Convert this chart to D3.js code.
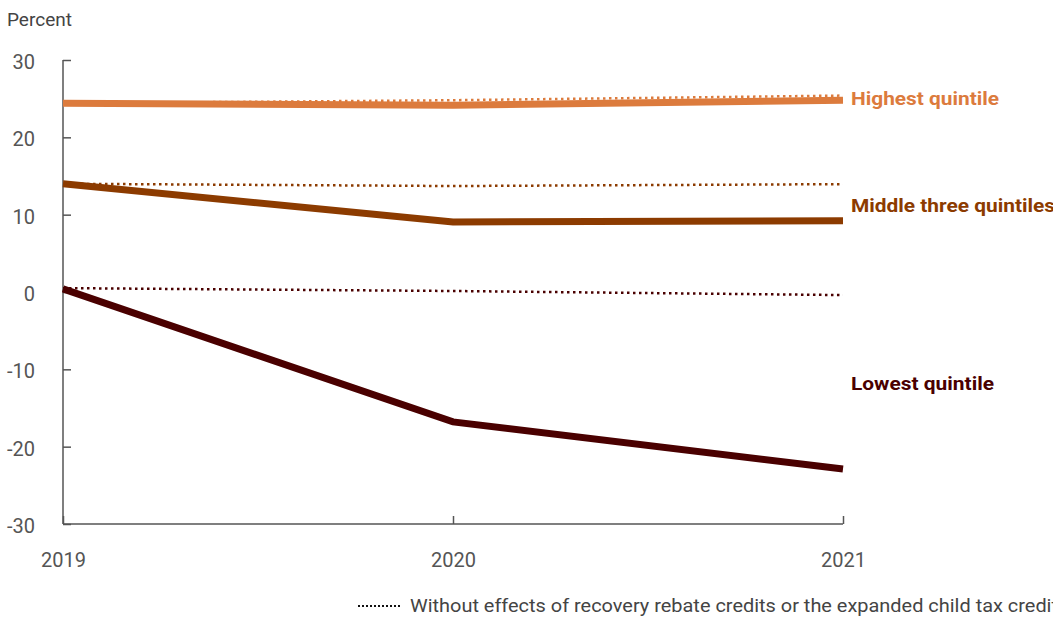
<!DOCTYPE html>
<html><head><meta charset="utf-8">
<script src="https://cdn.jsdelivr.net/npm/d3@7"></script>
<style>body{margin:0;background:#fff}svg{display:block}</style>
</head><body>
<svg id="c" width="1053" height="617"></svg>
<script>
const years = [2019, 2020, 2021];
const yTicks = [30, 20, 10, 0, -10, -20, -30];
const seriesNames = ["Highest quintile", "Middle three quintiles", "Lowest quintile"];
const highest = [24.4, 24.15, 24.8];
const highestWithout = [24.4, 24.8, 25.4];
const middle = [14.0, 9.05, 9.2];
const middleWithout = [14.0, 13.7, 13.95];
const lowest = [0.4, -16.8, -22.9];
const lowestWithout = [0.5, 0.13, -0.4];
const colors = ["#dc7b3d", "#8c3b00", "#4a0000"];
const legendText = "Without effects of recovery rebate credits or the expanded child tax credit";

const svg = d3.select("#c");
const font = "Roboto, 'Liberation Sans', sans-serif";
const x = d3.scaleLinear().domain([2019, 2021]).range([63, 843]);
const y = d3.scaleLinear().domain([-30, 30]).range([524, 60]);
const fmt = d => String(d);

// axes
const yAxis = svg.append("g").attr("transform", "translate(63,0)")
  .call(d3.axisRight(y).tickValues(yTicks).tickSize(8).tickFormat(fmt));
yAxis.select(".domain").remove();
yAxis.selectAll(".tick line").attr("stroke", "#555").attr("stroke-width", 1.5);
yAxis.selectAll(".tick text").attr("x", -28).attr("dy", "0.42em").attr("text-anchor", "end")
  .attr("fill", "#555").style("font-family", font).style("font-size", "20px");
svg.append("line").attr("x1", 63).attr("x2", 63).attr("y1", y(30)).attr("y2", y(-30))
  .attr("stroke", "#555").attr("stroke-width", 1.5);

const xAxis = svg.append("g").attr("transform", `translate(0,${y(-30)})`)
  .call(d3.axisTop(x).tickValues(years).tickSize(8).tickFormat(fmt));
xAxis.select(".domain").remove();
xAxis.selectAll(".tick line").attr("stroke", "#555").attr("stroke-width", 1.5);
xAxis.selectAll(".tick text").attr("y", 43).attr("dy", 0)
  .attr("fill", "#555").style("font-family", font).style("font-size", "20px");
svg.append("line").attr("x1", x(2019)).attr("x2", x(2021)).attr("y1", y(-30)).attr("y2", y(-30))
  .attr("stroke", "#555").attr("stroke-width", 1.5);

svg.append("text").attr("x", 7).attr("y", 26).text("Percent")
  .attr("fill", "#444").style("font-family", font).style("font-size", "19px");

const line = d3.line().x((d, i) => x(years[i])).y(d => y(d));
const solids = [highest, middle, lowest];
const dotted = [highestWithout, middleWithout, lowestWithout];

dotted.forEach((s, k) => {
  svg.append("path").attr("d", line(s)).attr("fill", "none")
    .attr("stroke", colors[k]).attr("stroke-width", 2.5).attr("stroke-dasharray", "2.5,3.5");
});
solids.forEach((s, k) => {
  svg.append("path").attr("d", line(s)).attr("fill", "none")
    .attr("stroke", colors[k]).attr("stroke-width", 7);
});

const labelY = [y(25.1), y(11.2), y(-11.8)];
const labelW = [148, 204, 143];
seriesNames.forEach((n, k) => {
  svg.append("text").attr("x", 851).attr("y", labelY[k]).attr("dy", "0.35em").text(n)
    .attr("fill", colors[k]).style("font-family", font).style("font-weight", "bold")
    .style("font-size", "19px").attr("textLength", labelW[k]).attr("lengthAdjust", "spacingAndGlyphs");
});

// legend
svg.append("line").attr("x1", 358).attr("x2", 402).attr("y1", 606).attr("y2", 606)
  .attr("stroke", "#111").attr("stroke-width", 2).attr("stroke-dasharray", "2,2");
svg.append("text").attr("x", 410).attr("y", 612).text(legendText)
  .attr("fill", "#444").style("font-family", font).style("font-size", "19px")
  .attr("textLength", 648).attr("lengthAdjust", "spacingAndGlyphs");
</script>
</body></html>
